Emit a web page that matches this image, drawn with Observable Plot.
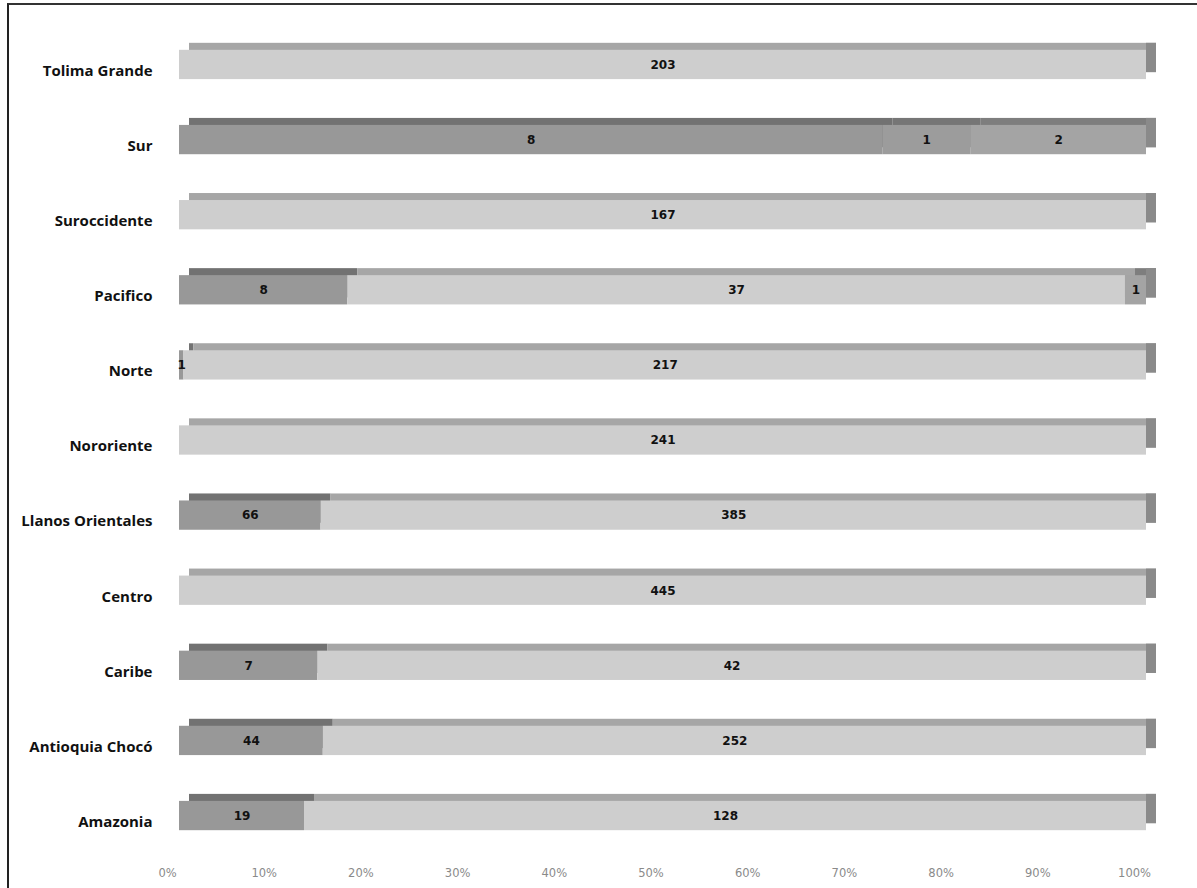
<!DOCTYPE html>
<html>
<head>
<meta charset="utf-8">
<script src="https://cdn.jsdelivr.net/npm/d3@7"></script>
<script src="https://cdn.jsdelivr.net/npm/@observablehq/plot@0.6"></script>
<style>
  html, body { margin: 0; padding: 0; background: #fff; }
  #wrap { position: relative; width: 1197px; height: 888px; overflow: hidden; background: #fff; }
  #frame { position: absolute; left: 7px; top: 3px; width: 1300px; height: 1000px;
           border-left: 2px solid #222; border-top: 2px solid #333; pointer-events: none; }
</style>
</head>
<body>
<div id="wrap"><div id="frame"></div></div>
<script>
// Regions, top to bottom
const regions = ["Tolima Grande", "Sur", "Suroccidente", "Pacifico", "Norte", "Nororiente",
  "Llanos Orientales", "Centro", "Caribe", "Antioquia Chocó", "Amazonia"];
// Series values per region (0 = segment absent)
const serieA = [0, 8, 0, 8, 1, 0, 66, 0, 7, 44, 19];          // dark
const serieB = [203, 0, 167, 37, 217, 241, 385, 445, 42, 252, 128]; // light
const serieC = [0, 1, 0, 0, 0, 0, 0, 0, 0, 0, 0];            // medium-dark
const serieD = [0, 2, 0, 1, 0, 0, 0, 0, 0, 0, 0];            // medium
const seriesNames = ["A", "B", "C", "D"];
const seriesValues = [serieA, serieB, serieC, serieD];
const xTicks = [0, 0.1, 0.2, 0.3, 0.4, 0.5, 0.6, 0.7, 0.8, 0.9, 1];

const frontColor = {A: "#989898", B: "#cecece", C: "#9c9c9c", D: "#a4a4a4"};
const topColor   = {A: "#727272", B: "#a6a6a6", C: "#767676", D: "#7e7e7e"};
const sideColor = "#8a8a8a";

const rows = [];
regions.forEach((r, i) => {
  seriesNames.forEach((s, k) => {
    const v = seriesValues[k][i];
    if (v > 0) rows.push({region: r, series: s, value: v});
  });
});

const stk = (o) => Plot.stackX({x: "value", y: "region", offset: "normalize", ...o});

const chart = Plot.plot({
  width: 1197,
  height: 888,
  marginLeft: 179,
  marginRight: 51,
  marginTop: 4,
  marginBottom: 24,
  style: {background: "transparent", overflow: "visible"},
  x: {domain: [0, 1], label: null},
  y: {domain: regions, range: [4, 876], padding: 0.61, round: false, axis: null},
  marks: [
    // top faces (shifted back)
    Plot.barX(rows, stk({fill: d => topColor[d.series], dx: 10, dy: -7})),
    // right side face
    Plot.barX(regions, {x1: 1, x2: 1, y: d => d, insetRight: -10, dy: -7, fill: sideColor}),
    // front faces
    Plot.barX(rows, stk({fill: d => frontColor[d.series]})),
    // value labels
    Plot.text(rows, stk({text: d => String(d.value), fill: "#111", fontSize: 12,
      fontWeight: "bold", fontFamily: "DejaVu Sans"})),
    // category labels
    Plot.text(regions, {y: d => d, text: d => d, frameAnchor: "left", dx: -27, textAnchor: "end",
      fontSize: 15, fontWeight: "bold", fontFamily: "Open Sans", fill: "#111", dy: 6}),
    // x axis
    Plot.axisX({ticks: xTicks, tickFormat: d3.format(".0%"), tickSize: 0, tickPadding: 4,
      label: null, dx: -12, fontSize: 11.5, fontFamily: "DejaVu Sans", fill: "#8a8a8a", color: "#8a8a8a"})
  ]
});
document.getElementById("wrap").insertBefore(chart, document.getElementById("frame"));
</script>
</body>
</html>
